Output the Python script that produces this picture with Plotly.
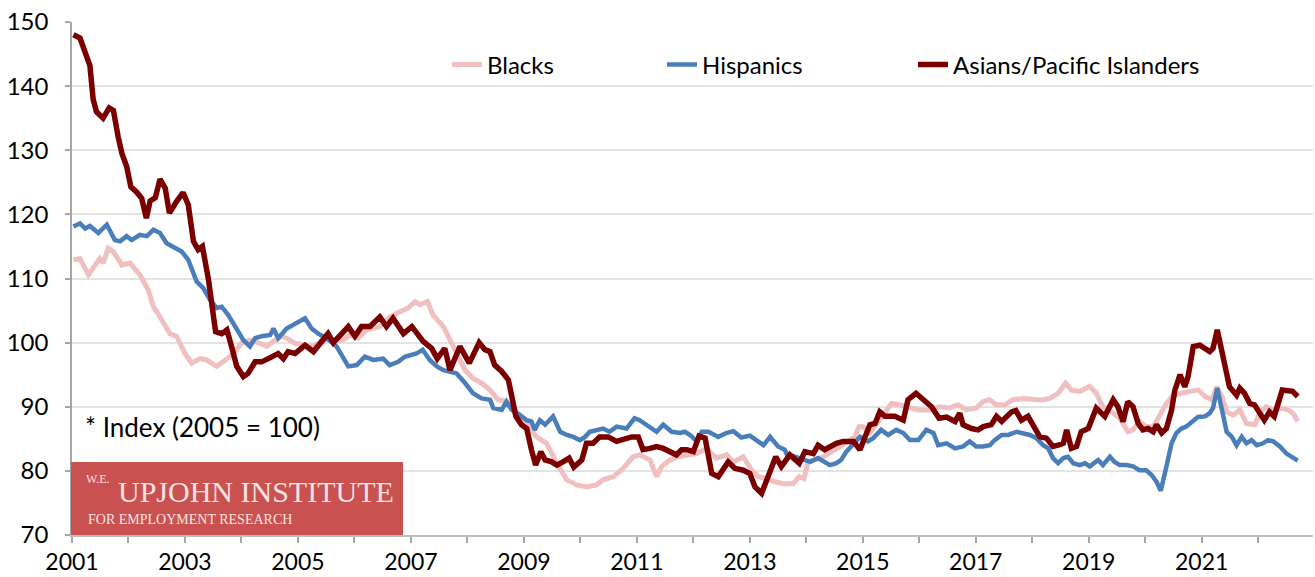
import plotly.graph_objects as go

# ---------------- data (months since Jan 2001, index value) ----------------
blacks_m = [0.3, 1.7, 3.5, 4.5, 5.9, 6.6, 7.7, 8.8, 10.6, 12.3, 14.4, 16.2, 17.3, 18.7, 20.8, 22.2, 24.0, 25.4,
            27.2, 28.6, 30.7, 32.1, 34.3, 36.0, 37.8, 39.9, 41.4, 42.8, 44.5, 45.6, 47.4, 51.3, 53.4, 57.6, 59.0,
            60.8, 62.6, 65.4, 67.5, 69.7, 71.4, 72.9, 73.9, 75.5, 76.7, 78.9, 80.3, 81.7, 83.5, 85.2, 87.0, 88.8,
            90.5, 92.3, 94.5, 96.6, 98.7, 100.8, 103.0, 105.1, 107.2, 109.3, 111.4, 112.8, 115.0, 117.1, 119.2,
            120.6, 122.8, 124.2, 125.3, 127.0, 128.8, 130.6, 132.7, 134.8, 136.9, 139.1, 140.5, 142.6, 144.4,
            145.8, 147.6, 149.3, 151.1, 153.2, 154.5, 155.5, 156.4, 157.8, 159.6, 161.4, 163.1, 164.9, 166.3,
            167.2, 168.1, 169.5, 171.6, 173.0, 174.1, 175.9, 177.6, 179.8, 182.2, 184.3, 186.4, 188.2, 190.0,
            192.1, 193.5, 194.9, 196.4, 198.2, 199.9, 202.4, 204.9, 206.3, 207.7, 209.5, 211.1, 212.3, 214.1,
            216.2, 217.6, 219.0, 220.8, 222.6, 224.3, 225.4, 226.8, 228.2, 229.7, 232.5, 233.9, 235.4, 237.5,
            239.3, 240.7, 242.1, 243.2, 244.3, 245.3, 246.7, 248.1, 249.5, 251.3, 252.3, 253.7, 255.2, 256.9,
            258.4, 259.4, 260.4]
blacks_v = [112.9, 113.1, 110.6, 111.6, 113.1, 112.4, 114.7, 114.2, 112.1, 112.4, 110.6, 108.2, 105.6, 104.0,
            101.4, 101.0, 98.3, 96.8, 97.5, 97.3, 96.3, 97.0, 98.3, 99.9, 100.4, 99.9, 99.4, 100.2, 101.0, 100.7,
            99.9, 99.4, 100.4, 100.4, 101.2, 100.7, 102.0, 102.5, 104.0, 104.8, 105.4, 106.4, 105.9, 106.4, 104.3,
            102.5, 100.4, 98.3, 95.7, 94.4, 93.7, 92.6, 91.1, 90.8, 89.0, 87.4, 85.3, 84.3, 81.2, 78.6, 77.8, 77.5,
            77.8, 78.6, 79.1, 80.4, 82.2, 82.5, 81.7, 79.1, 80.7, 81.7, 82.2, 82.5, 82.7, 83.5, 82.0, 82.5, 81.4,
            82.2, 80.1, 79.1, 78.8, 78.3, 78.0, 78.0, 79.1, 78.8, 81.4, 81.7, 82.2, 83.0, 83.8, 84.8, 85.3, 86.9,
            86.9, 85.9, 87.9, 89.5, 90.5, 90.3, 90.0, 89.5, 89.5, 90.0, 89.8, 90.3, 89.5, 89.8, 90.8, 91.1, 90.3,
            90.3, 91.1, 91.3, 91.1, 91.1, 91.3, 92.1, 93.7, 92.6, 92.4, 93.2, 92.1, 90.0, 89.2, 88.2, 86.1, 86.4,
            87.7, 86.9, 86.9, 90.5, 91.8, 92.1, 92.4, 92.6, 91.6, 91.1, 93.1, 91.6, 89.2, 88.7, 89.5, 87.4, 87.2,
            89.0, 90.0, 89.5, 89.8, 89.5, 89.0, 87.7]

hisp_m = [0.3, 1.7, 2.8, 3.8, 5.6, 7.4, 9.1, 10.2, 11.6, 12.7, 14.4, 15.9, 17.3, 18.7, 20.1, 21.9, 23.3, 24.7,
          26.5, 27.9, 29.3, 30.7, 31.8, 33.2, 35.0, 36.4, 37.8, 38.9, 40.3, 42.1, 42.8, 43.8, 45.6, 47.0, 48.1,
          49.5, 50.9, 52.3, 54.1, 56.2, 58.7, 60.5, 62.2, 64.0, 66.1, 67.5, 69.3, 70.7, 73.2, 74.5, 76.0, 77.5,
          78.9, 80.3, 81.7, 83.5, 85.2, 87.0, 88.8, 89.5, 91.3, 92.3, 93.4, 95.2, 96.6, 97.6, 98.3, 99.4, 100.5,
          102.2, 103.7, 105.1, 106.5, 107.9, 109.0, 110.0, 111.8, 112.8, 114.2, 115.7, 117.8, 119.5, 120.6,
          122.4, 124.2, 125.6, 127.4, 129.2, 130.2, 131.3, 132.7, 133.8, 135.2, 137.3, 139.0, 140.5, 142.2,
          144.0, 145.4, 146.9, 148.3, 150.0, 151.4, 152.1, 153.2, 156.8, 158.5, 159.9, 161.0, 162.4, 163.4,
          164.5, 165.9, 167.4, 169.1, 170.2, 171.9, 173.4, 175.1, 176.6, 178.0, 179.8, 181.5, 183.0, 184.0,
          185.8, 187.6, 189.3, 190.7, 192.1, 193.5, 195.0, 196.0, 197.5, 198.9, 200.7, 203.5, 204.9, 206.3,
          207.4, 208.4, 209.5, 210.6, 211.6, 212.7, 214.1, 215.2, 216.2, 218.0, 219.0, 220.5, 221.5, 222.6,
          224.0, 225.4, 226.8, 228.2, 229.3, 230.4, 231.3, 232.5, 233.6, 234.6, 235.7, 236.7, 238.2, 239.2,
          240.7, 241.7, 242.4, 243.3, 244.3, 245.3, 246.4, 247.4, 248.5, 249.5, 250.6, 251.7, 253.0, 254.1,
          255.2, 256.6, 258.0, 259.1, 260.4]
hisp_v = [118.1, 118.6, 117.8, 118.2, 117.1, 118.4, 116.0, 115.8, 116.6, 116.0, 116.8, 116.6, 117.6, 117.1,
          115.5, 114.7, 114.2, 112.9, 109.5, 108.5, 106.7, 105.4, 105.6, 104.3, 102.2, 100.4, 99.4, 100.7,
          101.0, 101.2, 102.2, 100.7, 102.2, 102.8, 103.3, 103.8, 102.2, 101.4, 100.7, 99.4, 96.3, 96.5, 97.8,
          97.3, 97.5, 96.5, 97.0, 97.8, 98.3, 98.9, 97.3, 96.3, 95.7, 95.5, 95.2, 93.7, 92.1, 91.3, 91.1, 89.8,
          89.5, 90.8, 89.5, 88.7, 87.9, 87.7, 86.4, 87.9, 87.2, 88.5, 86.1, 85.6, 85.3, 84.8, 85.3, 86.1, 86.4,
          86.6, 86.1, 86.9, 86.6, 88.2, 87.9, 86.9, 86.1, 87.2, 86.1, 85.9, 86.1, 85.6, 84.6, 86.1, 86.1, 85.3,
          85.9, 86.2, 85.2, 85.5, 84.8, 84.0, 85.3, 83.8, 83.3, 82.2, 82.3, 81.4, 82.0, 81.4, 80.9, 81.2, 81.7,
          83.0, 84.0, 85.3, 84.6, 85.1, 86.4, 85.6, 86.4, 85.9, 84.8, 84.8, 86.4, 85.9, 84.0, 84.3, 83.5, 83.8,
          84.6, 83.8, 83.8, 84.0, 84.8, 85.6, 85.6, 86.1, 85.6, 85.1, 84.0, 83.5, 82.0, 81.2, 82.0, 82.2, 81.2,
          80.9, 81.2, 80.7, 81.7, 80.9, 82.2, 81.4, 80.9, 80.9, 80.7, 80.1, 80.1, 79.4, 78.3, 76.9, 80.7, 84.3,
          85.9, 86.6, 86.9, 87.9, 88.4, 88.5, 89.0, 89.8, 92.9, 89.5, 86.1, 85.3, 84.0, 85.3, 84.3, 84.8, 84.0,
          84.3, 84.8, 84.6, 83.8, 82.7, 82.2, 81.6]

asian_m = [0.3, 1.7, 3.8, 4.5, 5.2, 6.6, 7.9, 8.8, 9.8, 10.6, 11.6, 12.5, 13.7, 14.8, 15.8, 16.6, 17.7, 18.7,
           19.8, 20.7, 22.2, 23.6, 24.7, 25.8, 26.8, 27.7, 29.0, 30.0, 30.5, 31.8, 32.9, 33.9, 35.0, 36.4, 37.4,
           38.9, 40.3, 41.7, 43.8, 44.9, 45.9, 47.4, 49.5, 51.3, 53.0, 54.4, 55.5, 56.9, 58.7, 60.1, 61.5, 63.3,
           65.4, 66.8, 68.2, 70.4, 72.2, 74.6, 76.4, 77.6, 79.2, 80.3, 82.4, 84.4, 86.5, 87.7, 88.8, 89.8, 91.3,
           92.7, 93.4, 94.3, 95.5, 96.6, 97.6, 98.5, 99.6, 100.5, 101.9, 103.0, 104.3, 105.6, 106.6, 108.3,
           109.3, 110.7, 112.1, 113.9, 115.7, 117.5, 118.9, 120.3, 121.3, 122.8, 124.2, 125.6, 127.0, 128.4,
           129.5, 130.6, 132.0, 133.2, 134.5, 135.9, 137.3, 139.4, 140.8, 142.6, 144.0, 145.1, 146.5, 147.9,
           149.5, 150.7, 152.5, 154.5, 155.7, 157.5, 158.5, 159.9, 162.4, 163.8, 166.0, 167.4, 168.4, 169.5,
           170.6, 171.6, 172.7, 174.8, 176.6, 177.6, 179.3, 180.8, 182.6, 184.2, 185.8, 187.6, 188.6, 189.3,
           191.1, 192.5, 193.6, 195.3, 196.4, 197.5, 199.6, 200.5, 201.7, 203.1, 204.2, 205.6, 207.0, 208.4,
           209.5, 210.6, 211.3, 212.3, 213.4, 214.4, 215.9, 217.6, 219.4, 221.2, 222.2, 223.3, 224.3, 225.4,
           226.5, 227.5, 228.6, 229.7, 230.4, 231.5, 232.5, 233.6, 234.3, 235.4, 236.4, 237.1, 238.2, 239.6,
           241.7, 242.4, 243.3, 244.5, 245.9, 247.4, 248.1, 249.1, 250.2, 251.2, 252.3, 253.3, 254.4, 255.4,
           257.1, 258.6, 259.3, 260.4]
asian_v = [148.0, 147.5, 143.2, 137.9, 136.0, 135.0, 136.6, 136.2, 132.1, 129.5, 127.5, 124.3, 123.5, 122.5,
           119.4, 122.1, 122.6, 125.5, 124.1, 120.2, 122.0, 123.4, 121.5, 115.8, 114.5, 115.0, 109.8, 104.6,
           101.7, 101.4, 102.0, 99.4, 96.3, 94.7, 95.2, 97.0, 97.0, 97.5, 98.3, 97.5, 98.6, 98.3, 99.6, 98.6,
           100.0, 101.4, 100.0, 101.2, 102.5, 101.0, 102.5, 102.5, 104.0, 102.5, 103.8, 101.4, 102.5, 100.2,
           99.1, 97.5, 99.1, 95.7, 99.4, 96.8, 100.0, 98.9, 98.6, 96.5, 95.5, 94.2, 92.1, 88.5, 87.2, 86.6, 83.3,
           80.9, 83.0, 81.7, 81.4, 80.9, 81.4, 82.0, 80.6, 81.7, 84.3, 84.3, 85.3, 85.3, 84.6, 85.1, 85.3, 85.3,
           83.3, 83.5, 83.8, 83.5, 83.0, 82.5, 83.3, 83.3, 83.0, 85.4, 85.1, 79.6, 79.1, 81.4, 80.4, 80.1, 79.6,
           77.5, 76.5, 79.1, 82.2, 80.7, 82.5, 81.2, 83.0, 82.7, 84.0, 83.3, 84.3, 84.6, 84.6, 83.3, 85.3, 87.2,
           87.4, 89.2, 88.5, 88.5, 87.9, 91.1, 92.1, 91.1, 90.0, 88.2, 88.4, 87.7, 89.0, 87.2, 86.6, 86.4, 86.9,
           87.2, 88.5, 87.7, 89.2, 89.4, 87.9, 88.5, 86.9, 85.3, 85.1, 83.8, 84.0, 84.3, 86.4, 83.5, 83.8, 86.1,
           86.6, 89.8, 88.5, 91.1, 90.0, 87.7, 90.8, 90.0, 87.4, 86.4, 86.6, 86.1, 87.2, 85.9, 86.6, 89.5, 92.6,
           95.0, 93.1, 94.7, 99.4, 99.6, 98.6, 99.1, 102.0, 98.3, 93.1, 91.8, 92.9, 92.1, 90.5, 90.3, 89.0, 87.9,
           89.2, 88.5, 92.6, 92.6, 92.4, 91.6]

series_names = ["Blacks", "Hispanics", "Asians/Pacific Islanders"]
series_colors = ["#f0bfbf", "#4a7ebb", "#7a0000"]
year_ticks = list(range(2001, 2022, 2))
y_ticks = list(range(70, 151, 10))


def to_year(months):
    return [2001 + m / 12.0 for m in months]


# ---------------- geometry helpers (pixels -> paper) ----------------
W, H = 1315, 577
ML, MR, MT, MB = 72, 2, 22, 42
PW, PH = W - ML - MR, H - MT - MB


def px(x):
    return (x - ML) / PW


def py(y):
    return (H - MB - y) / PH


FONT = "Lato"

fig = go.Figure()
data = [(blacks_m, blacks_v), (hisp_m, hisp_v), (asian_m, asian_v)]
legend_ids = ["legend", "legend2", "legend3"]
widths = [5, 4.5, 5.5]
for (m, v), name, col, lg, w in zip(data, series_names, series_colors, legend_ids, widths):
    fig.add_trace(go.Scatter(x=to_year(m), y=v, mode="lines", name=name,
                             line=dict(color=col, width=w), legend=lg))

leg_common = dict(orientation="h", yanchor="middle", xanchor="left", bgcolor="rgba(0,0,0,0)",
                  font=dict(family=FONT, size=24, color="#000000"), itemwidth=30,
                  tracegroupgap=0)
leg_x = [px(447), px(662), px(913)]

fig.update_layout(
    width=W, height=H,
    margin=dict(l=ML, r=MR, t=MT, b=MB, pad=0),
    paper_bgcolor="white", plot_bgcolor="white",
    showlegend=True,
    legend=dict(x=leg_x[0], y=py(65), **leg_common),
    legend2=dict(x=leg_x[1], y=py(65), **leg_common),
    legend3=dict(x=leg_x[2], y=py(65), **leg_common),
    xaxis=dict(range=[2001, 2022.97], tickvals=year_ticks, ticktext=[str(t) for t in year_ticks],
               ticks="outside", ticklen=6, tickcolor="#a6a6a6", tickwidth=1.5,
               showline=True, linecolor="#bfbfbf", linewidth=1.5, showgrid=False, zeroline=False,
               tickfont=dict(family=FONT, size=23, color="#000000"),
               minor=dict(dtick=1, tick0=2001, ticks="outside", ticklen=6, tickcolor="#a6a6a6",
                          tickwidth=1.5, showgrid=False)),
    yaxis=dict(range=[70, 150], tickvals=y_ticks, ticks="outside", ticklen=5, tickcolor="#a6a6a6",
               tickwidth=1.5, showline=True, linecolor="#a6a6a6", linewidth=1.5,
               showgrid=True, gridcolor="#e3e3e3", gridwidth=1.5, zeroline=False,
               ticklabelstandoff=12,
               tickfont=dict(family=FONT, size=24, color="#000000")),
)

# Upjohn Institute logo block
fig.add_shape(type="rect", xref="paper", yref="paper", x0=px(71), x1=px(403), y0=py(535), y1=py(462),
              fillcolor="#c95250", line=dict(width=0), layer="above")
serif = "Liberation Serif"
logo_col = "#f7e4e2"
fig.add_annotation(xref="paper", yref="paper", x=px(84), y=py(479), xanchor="left", yanchor="middle",
                   text="W.E.", showarrow=False, font=dict(family=serif, size=12, color=logo_col))
fig.add_annotation(xref="paper", yref="paper", x=px(116), y=py(491), xanchor="left", yanchor="middle",
                   text="UPJOHN INSTITUTE", showarrow=False, font=dict(family=serif, size=30, color=logo_col))
fig.add_annotation(xref="paper", yref="paper", x=px(86), y=py(519), xanchor="left", yanchor="middle",
                   text="FOR EMPLOYMENT RESEARCH", showarrow=False,
                   font=dict(family=serif, size=14, color=logo_col))

# index note
fig.add_annotation(xref="paper", yref="paper", x=px(83), y=py(427), xanchor="left", yanchor="middle",
                   text="* Index (2005 = 100)", showarrow=False,
                   font=dict(family=FONT, size=26, color="#000000"))

fig.write_html("out.html")
